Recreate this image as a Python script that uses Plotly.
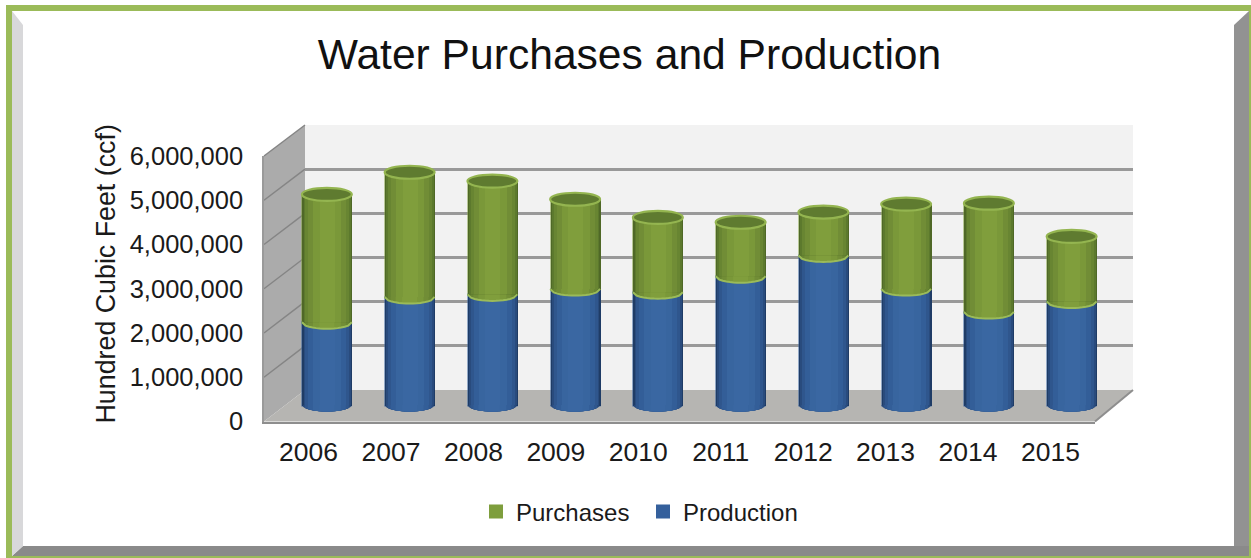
import math
import plotly.graph_objects as go

years = [2006, 2007, 2008, 2009, 2010, 2011, 2012, 2013, 2014, 2015]
year_labels = [str(y) for y in years]
production = [1870000, 2440000, 2500000, 2620000, 2550000, 2910000, 3380000, 2620000, 2100000, 2340000]
purchases = [2890000, 2820000, 2560000, 2030000, 1690000, 1220000, 980000, 1920000, 2460000, 1470000]
y_ticks = [0, 1000000, 2000000, 3000000, 4000000, 5000000, 6000000]
y_labels = ["0", "1,000,000", "2,000,000", "3,000,000", "4,000,000", "5,000,000", "6,000,000"]

W, H = 1251, 558
BAR_W = 0.603
CAP_PX = 6.5
PX_PER_UNIT = 44.25 / 1e6
CAP_H = CAP_PX / PX_PER_UNIT
BASE_EXTRA_PX = 10

GREEN_MAIN = "#7E9E3D"
BLUE_MAIN = "#35609C"
green_layers = ["#4F6827", "#5C792D", "#688532", "#718D36", "#7A9839", "#809E3C"]
blue_layers = ["#1F3C66", "#294B7D", "#2F568D", "#335E98", "#38659F", "#3A67A2"]
layer_frac = [1.0, 0.95, 0.88, 0.76, 0.56, 0.3]


def fx(px):
    return px / W


def fy(py):
    return 1 - py / H


def poly(points, fill, layer="below", line=None, width=0):
    d = "M " + " L ".join(f"{fx(x):.5f},{fy(y):.5f}" for x, y in points) + " Z"
    return dict(type="path", xref="paper", yref="paper", path=d, fillcolor=fill, layer=layer,
                line=dict(color=line or fill, width=width))


def seg(x0, y0, x1, y1, color, width):
    return dict(type="line", xref="paper", yref="paper", x0=fx(x0), y0=fy(y0), x1=fx(x1), y1=fy(y1),
                layer="below", line=dict(color=color, width=width))


def lower_arc(cx, half, v, close):
    R = BAR_W / 2
    n = 14
    pts = []
    for i in range(n + 1):
        x = -half + 2 * half * i / n
        t = min(1.0, abs(x) / R)
        pts.append((cx + x, v - CAP_H * math.sqrt(1 - t * t)))
    d = "M " + " L ".join(f"{a:.4f},{b:.1f}" for a, b in pts)
    if close:
        d += f" L {cx + half:.4f},{v:.1f} L {cx - half:.4f},{v:.1f} Z"
    return d


shapes = []
# frame
shapes.append(poly([(6, 5), (1251, 5), (1251, 558), (6, 558)], "#9BBB59"))
shapes.append(poly([(12, 11), (1249, 11), (1249, 556), (12, 556)], "#FFFFFF"))
shapes.append(poly([(1234, 25), (1249, 11), (1249, 556), (1234, 546)], "#929292"))
shapes.append(poly([(12, 556), (23, 546), (1249, 546), (1249, 556)], "#8A8A8A"))
shapes.append(poly([(12, 11), (23, 25), (23, 546), (12, 556)], "#D8D8DA"))

# walls and floor
FL, FB, FT = 264, 421.5, 156
BL, BR, BB, BT = 305, 1133, 390, 125
FR = 1095
shapes.append(poly([(BL, BT), (BR, BT), (BR, BB), (BL, BB)], "#F2F2F2"))
shapes.append(poly([(FL, FT), (BL, BT), (BL, BB), (FL, FB)], "#ABABAB"))
shapes.append(poly([(FL, FB), (BL, BB), (BR, BB), (FR, FB)], "#B6B5B2"))
for t in y_ticks[1:]:
    f = t / 6000000
    shapes.append(seg(FL, FB - f * (FB - FT), BL, BB - f * (BB - BT), "#858585", 1.5))
shapes.append(seg(FR, FB, BR, BB, "#8E8E8E", 2))

# cylinder ends, computed from the data
for i, yr in enumerate(years):
    p = production[i]
    t = p + purchases[i]
    for frac, col in zip(layer_frac, blue_layers):
        shapes.append(dict(type="path", xref="x3", yref="y3", path=lower_arc(yr, BAR_W / 2 * frac, 0, True),
                           fillcolor=col, line=dict(width=0), layer="above"))
    for frac, col in zip(layer_frac, green_layers):
        shapes.append(dict(type="path", xref="x3", yref="y3", path=lower_arc(yr, BAR_W / 2 * frac, p, True),
                           fillcolor=col, line=dict(width=0), layer="above"))
    shapes.append(dict(type="path", xref="x3", yref="y3", path=lower_arc(yr, BAR_W / 2, p, False),
                       fillcolor="rgba(0,0,0,0)", line=dict(color="#9BBB59", width=2), layer="above"))
    for frac, col in zip(layer_frac, green_layers):
        shapes.append(dict(type="path", xref="x3", yref="y3", path=lower_arc(yr, BAR_W / 2 * frac, t, True),
                           fillcolor=col, line=dict(width=0), layer="above"))
    shapes.append(dict(type="circle", xref="x3", yref="y3", x0=yr - BAR_W / 2, x1=yr + BAR_W / 2,
                       y0=t - CAP_H, y1=t + CAP_H, fillcolor="#5F7B30",
                       line=dict(color="#94B550", width=2.2), layer="above"))

fig = go.Figure()

# axes carriers for the front plane and the back wall
fig.add_trace(go.Scatter(x=year_labels, y=production, xaxis="x", yaxis="y", mode="markers",
                         marker=dict(size=1, opacity=0), showlegend=False, hoverinfo="skip"))
fig.add_trace(go.Scatter(x=years, y=production, xaxis="x2", yaxis="y2", mode="markers",
                         marker=dict(size=1, opacity=0), showlegend=False, hoverinfo="skip"))

fig.add_trace(go.Bar(name="Purchases", x=years, y=purchases, base=production, width=BAR_W * 0.96,
                     marker=dict(color=GREEN_MAIN, line=dict(width=2, color=GREEN_MAIN)), xaxis="x3", yaxis="y3"))
fig.add_trace(go.Bar(name="Production", x=years, y=production, width=BAR_W * 0.96,
                     marker=dict(color=BLUE_MAIN, line=dict(width=2, color=BLUE_MAIN)), xaxis="x3", yaxis="y3"))
for frac, col in zip(layer_frac, green_layers):
    fig.add_trace(go.Bar(x=years, y=purchases, base=production, width=BAR_W * frac,
                         marker=dict(color=col, line=dict(width=0)), showlegend=False,
                         hoverinfo="skip", xaxis="x3", yaxis="y3"))
for frac, col in zip(layer_frac, blue_layers):
    fig.add_trace(go.Bar(x=years, y=production, width=BAR_W * frac,
                         marker=dict(color=col, line=dict(width=0)), showlegend=False,
                         hoverinfo="skip", xaxis="x3", yaxis="y3"))

FONT = "Liberation Sans, Arial, sans-serif"
fig.update_layout(
    width=W, height=H, autosize=False,
    margin=dict(l=0, r=0, t=0, b=0, pad=0, autoexpand=False),
    paper_bgcolor="rgba(0,0,0,0)", plot_bgcolor="rgba(0,0,0,0)",
    barmode="overlay", bargap=0,
    font=dict(family=FONT, color="#1A1A1A"),
    title=dict(text="Water Purchases and Production", x=629.5 / W, xanchor="center",
               y=fy(54), yanchor="middle", font=dict(size=42.6, color="#111111", family=FONT)),
    xaxis=dict(domain=[fx(FL), fx(FR)], type="category", showgrid=False, zeroline=False,
               showline=True, linecolor="#8E8E8E", linewidth=2, ticks="", anchor="y",
               tickfont=dict(size=26.5), ticklabelstandoff=6, fixedrange=True,
               categoryorder="array", categoryarray=year_labels),
    yaxis=dict(domain=[fy(FB), fy(FT)], range=[0, 6000000], tickvals=y_ticks, ticktext=y_labels,
               showgrid=False, zeroline=False, showline=True, linecolor="#9A9A9A", linewidth=1.5,
               ticks="", tickfont=dict(size=25.5), ticklabelstandoff=14, anchor="x"),
    xaxis2=dict(domain=[fx(BL), fx(BR)], range=[2005.5, 2015.5], visible=False, anchor="y2"),
    yaxis2=dict(domain=[fy(BB), fy(BT)], range=[0, 6000000], tickvals=y_ticks[1:], showticklabels=False,
                showgrid=True, gridcolor="#999999", gridwidth=2.5, zeroline=False, ticks="",
                anchor="x2", side="right"),
    xaxis3=dict(domain=[fx(285.5), fx(1113.0)], range=[2005.5, 2015.5], visible=False, anchor="y3"),
    yaxis3=dict(domain=[fy(405 + BASE_EXTRA_PX), fy(139.5)], range=[-BASE_EXTRA_PX / PX_PER_UNIT, 6000000],
                visible=False, anchor="x3"),
    legend=dict(orientation="h", x=643 / W, xanchor="center", y=fy(512), yanchor="middle",
                bgcolor="rgba(0,0,0,0)", font=dict(size=24), traceorder="normal",
                entrywidth=122, entrywidthmode="pixels"),
    annotations=[dict(text="Hundred Cubic Feet (ccf)", xref="paper", yref="paper", x=fx(105), y=fy(274.5),
                      xanchor="center", yanchor="middle", textangle=-90, showarrow=False,
                      font=dict(size=26.8, color="#1A1A1A"))],
    shapes=shapes,
)
fig.write_html("out.html", config=dict(displayModeBar=False),
               post_script="document.body.style.margin='0';document.documentElement.style.overflow='hidden';")
